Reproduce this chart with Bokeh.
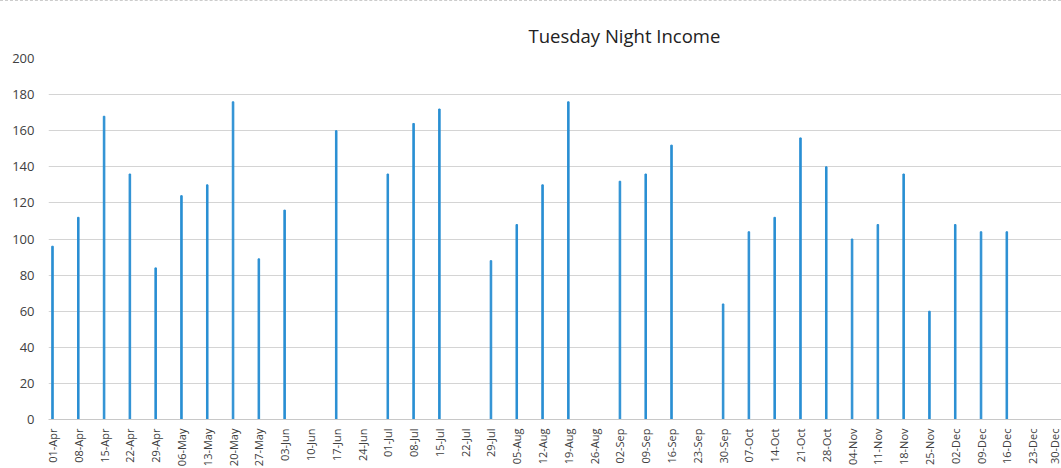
from bokeh.plotting import figure
from bokeh.models import FixedTicker, Range1d, ColumnDataSource
from bokeh.embed import file_html
from bokeh.resources import INLINE
import math

dates = ["01-Apr", "08-Apr", "15-Apr", "22-Apr", "29-Apr", "06-May", "13-May", "20-May",
         "27-May", "03-Jun", "10-Jun", "17-Jun", "24-Jun", "01-Jul", "08-Jul", "15-Jul",
         "22-Jul", "29-Jul", "05-Aug", "12-Aug", "19-Aug", "26-Aug", "02-Sep", "09-Sep",
         "16-Sep", "23-Sep", "30-Sep", "07-Oct", "14-Oct", "21-Oct", "28-Oct", "04-Nov",
         "11-Nov", "18-Nov", "25-Nov", "02-Dec", "09-Dec", "16-Dec", "23-Dec", "30-Dec"]
income = [96, 112, 168, 136, 84, 124, 130, 176,
          89, 116, 0, 160, 0, 136, 164, 172,
          0, 88, 108, 130, 176, 0, 132, 136,
          152, 0, 64, 104, 112, 156, 140, 100,
          108, 136, 60, 108, 104, 104, 0, 0]
y_ticks = [0, 20, 40, 60, 80, 100, 120, 140, 160, 180, 200]

idx = list(range(len(dates)))
src = ColumnDataSource(dict(x=idx, y=income))

p = figure(width=1061, height=468, output_backend="svg", toolbar_location=None,
           x_range=Range1d(-0.155, 39.12), y_range=Range1d(0, 200),
           min_border_left=48, min_border_right=0, min_border_top=57, min_border_bottom=44)

p.title.text = "Tuesday Night Income"
p.title.align = "left"
p.title.offset = 480
p.title.text_font = "Open Sans"
p.title.text_font_size = "18.5px"
p.title.text_font_style = "normal"
p.title.text_color = "#222222"
p.title.standoff = 21

p.vbar(x="x", top="y", width=0.06, source=src, color="#2a8fd3")

p.outline_line_color = None
p.xgrid.grid_line_color = None
p.ygrid.grid_line_color = "#d4d4d4"
p.ygrid.grid_line_width = 1
p.ygrid.ticker = FixedTicker(ticks=y_ticks)

p.yaxis.ticker = FixedTicker(ticks=y_ticks)
p.yaxis.axis_line_color = None
p.yaxis.major_tick_line_color = None
p.yaxis.minor_tick_line_color = None
p.yaxis.major_label_standoff = 8
p.yaxis.major_label_text_font = "Open Sans"
p.yaxis.major_label_text_font_size = "13px"
p.yaxis.major_label_text_color = "#404040"

p.xaxis.ticker = FixedTicker(ticks=idx)
p.xaxis.major_label_overrides = {i: d for i, d in enumerate(dates)}
p.xaxis.major_label_orientation = math.pi / 2
p.xaxis.axis_line_color = "#c8c8c8"
p.xaxis.major_tick_line_color = None
p.xaxis.minor_tick_line_color = None
p.xaxis.major_label_standoff = 3
p.xaxis.major_label_text_font = "Open Sans"
p.xaxis.major_label_text_font_size = "11px"
p.xaxis.major_label_text_color = "#404040"

p.styles = {"border-top": "1px dashed #cccccc"}

open("out.html", "w").write(file_html(p, INLINE))
